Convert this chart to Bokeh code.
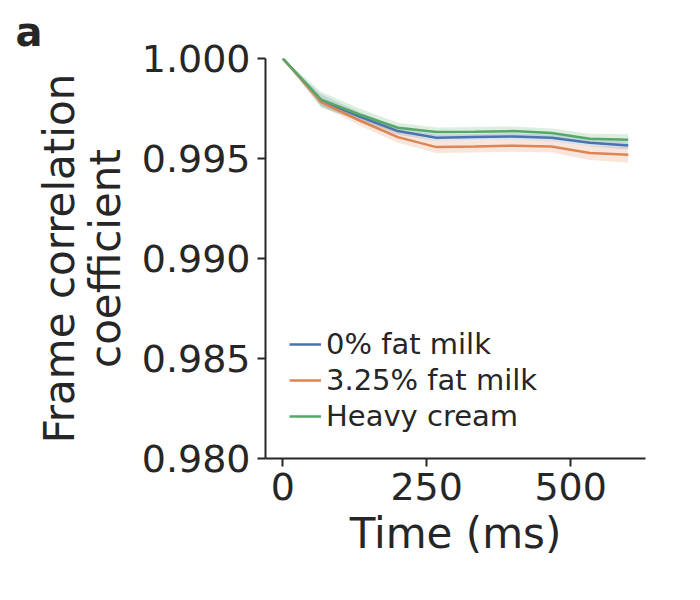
from bokeh.plotting import figure
from bokeh.models import Range1d, FixedTicker, Legend, LegendItem, CustomJSTickFormatter
from bokeh.embed import file_html
from bokeh.resources import INLINE

time_ms = [0, 66.7, 133.3, 200, 266.7, 333.3, 400, 466.7, 533.3, 600]
skim = [1.0, 0.99790, 0.99710, 0.99637, 0.99604, 0.99607, 0.99610, 0.99604, 0.99579, 0.99565]
whole = [1.0, 0.99782, 0.99690, 0.99607, 0.99557, 0.99560, 0.99564, 0.99560, 0.99527, 0.99519]
cream = [1.0, 0.99794, 0.99720, 0.99654, 0.99632, 0.99634, 0.99637, 0.99627, 0.99599, 0.99594]
skim_err = [0, 0.00030, 0.00022, 0.00018, 0.00016, 0.00016, 0.00016, 0.00016, 0.00018, 0.00020]
whole_err = [0, 0.00020, 0.00025, 0.00028, 0.00030, 0.00030, 0.00030, 0.00030, 0.00035, 0.00040]
cream_err = [0, 0.00040, 0.00030, 0.00025, 0.00023, 0.00023, 0.00023, 0.00023, 0.00025, 0.00027]
labels = ["0% fat milk", "3.25% fat milk", "Heavy cream"]
colors = ["#4C72B0", "#DD8452", "#55A868"]
x_ticks = [0, 250, 500]
y_ticks = [0.980, 0.985, 0.990, 0.995, 1.000]

FONT = "DejaVu Sans"
TXT = "#262626"

W, H = 684, 590
p = figure(width=W, height=H, output_backend="svg", toolbar_location=None,
           x_range=Range1d(-30, 630), y_range=Range1d(0.980, 1.000),
           min_border_left=265, min_border_right=W - 645, min_border_top=58,
           min_border_bottom=H - 458)
p.outline_line_color = None
p.grid.visible = False

series = [(skim, skim_err), (whole, whole_err), (cream, cream_err)]
for (vals, err), c in zip(series, colors):
    lo = [v - e for v, e in zip(vals, err)]
    hi = [v + e for v, e in zip(vals, err)]
    p.varea(x=time_ms, y1=lo, y2=hi, fill_color=c, fill_alpha=0.2)

items = []
for (vals, err), c, lab in zip(series, colors, labels):
    r = p.line(time_ms, vals, line_color=c, line_width=2.5)
    items.append(LegendItem(label=lab, renderers=[r]))

legend = Legend(items=items, location=(24, 24), padding=0, margin=0, spacing=0,
                label_text_font=FONT, label_text_font_size="29px", label_text_color=TXT,
                glyph_width=32, glyph_height=36, label_height=36, label_standoff=5,
                background_fill_alpha=0, border_line_color=None)
p.add_layout(legend, "center")

for ax in (p.xaxis[0], p.yaxis[0]):
    ax.axis_line_width = 2
    ax.axis_line_color = TXT
    ax.major_tick_line_color = TXT
    ax.major_tick_line_width = 2
    ax.major_tick_out = 8
    ax.major_tick_in = 0
    ax.minor_tick_line_color = None
    ax.major_label_text_font = FONT
    ax.major_label_text_font_size = "38px"
    ax.major_label_text_color = TXT
    ax.axis_label_text_font = FONT
    ax.axis_label_text_font_size = "42px"
    ax.axis_label_text_color = TXT
    ax.axis_label_text_font_style = "normal"

p.xaxis.ticker = FixedTicker(ticks=x_ticks)
p.yaxis.ticker = FixedTicker(ticks=y_ticks)
p.yaxis.formatter = CustomJSTickFormatter(code="return tick.toFixed(3);")
p.xaxis.major_label_standoff = 6
p.yaxis.major_label_standoff = 7
p.xaxis.axis_label = "Time (ms)"
p.yaxis.axis_label = "Frame correlation\ncoefficient"
p.yaxis.axis_label_text_line_height = 0.93
p.xaxis.axis_label_standoff = 6
p.yaxis.axis_label_standoff = 9

# panel letter as the title, shifted left to the page corner
p.title.text = "a"
p.title.text_font = FONT
p.title.text_font_size = "40px"
p.title.text_font_style = "bold"
p.title.text_color = TXT
p.title.align = "left"
p.title.offset = -250
p.title.standoff = 8

open("out.html", "w").write(file_html(p, INLINE))
